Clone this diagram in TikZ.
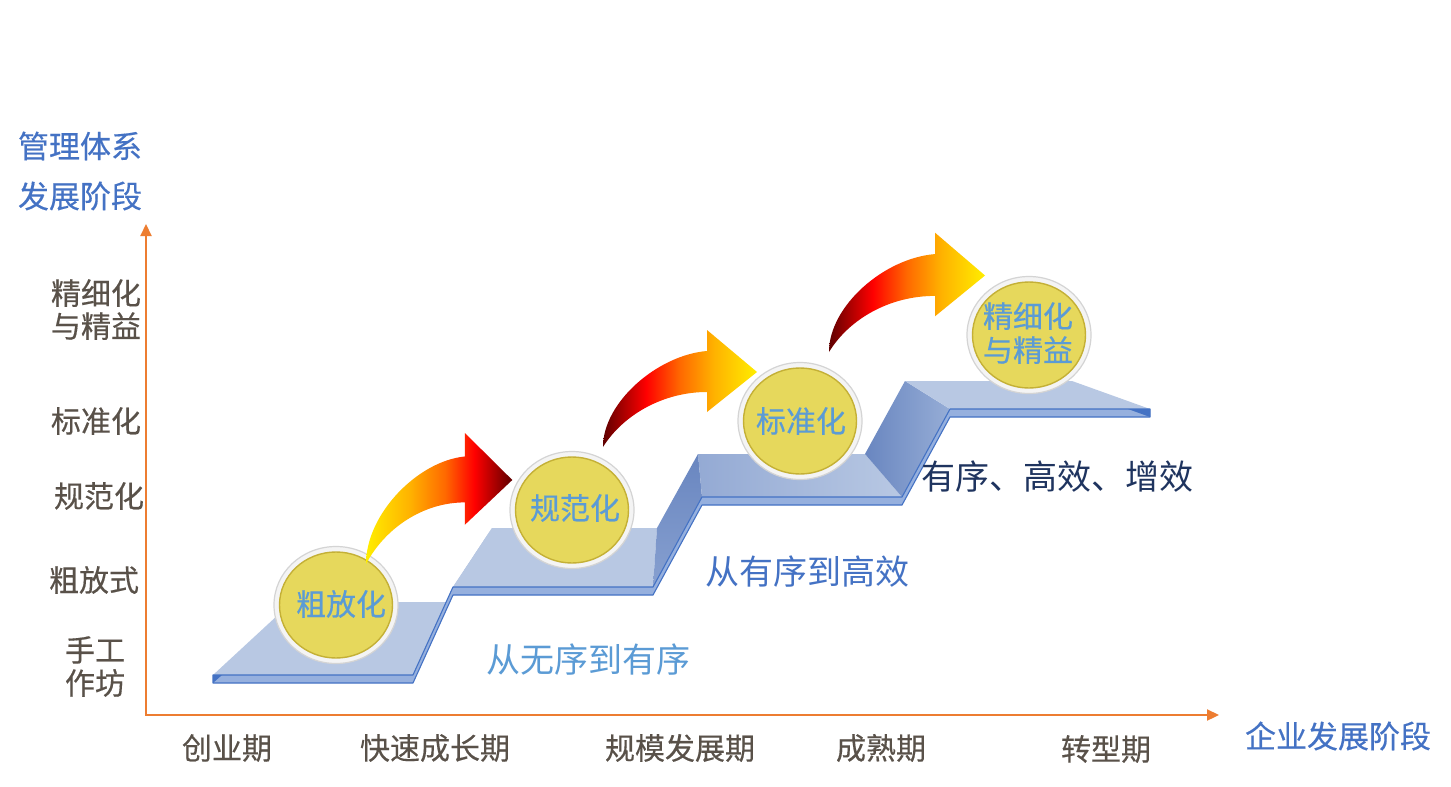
\documentclass[tikz,border=0pt]{standalone}
\usepackage{fontspec}
\setmainfont{Noto Sans CJK SC}
\newfontfamily\cjkheavy[FakeBold=0.35]{Noto Sans CJK SC}
\usetikzlibrary{arrows.meta}
\definecolor{axisor}{HTML}{ED7D31}
\definecolor{titleblue}{HTML}{4472C4}
\definecolor{lblgray}{RGB}{89,81,73}
\definecolor{cointext}{HTML}{5B9BD5}
\definecolor{navy}{RGB}{31,52,95}
\definecolor{topface}{RGB}{184,200,227}
\definecolor{topdark}{RGB}{148,170,212}
\definecolor{stripfill}{RGB}{150,176,222}
\definecolor{stripline}{RGB}{68,114,196}
\definecolor{riserA}{RGB}{168,187,222}
\definecolor{riserB}{RGB}{135,160,208}
\definecolor{riserC}{RGB}{105,134,192}
\definecolor{riserD}{RGB}{150,173,214}
\definecolor{coinfill}{RGB}{230,216,92}
\definecolor{coinrim}{RGB}{196,176,54}
\definecolor{ringfill}{RGB}{244,244,244}
\definecolor{ringline}{RGB}{212,212,212}
\definecolor{ay1}{RGB}{255,238,0}
\definecolor{ay2}{RGB}{255,178,0}
\definecolor{ay3}{RGB}{255,105,0}
\definecolor{ay4}{RGB}{255,0,0}
\definecolor{ay5}{RGB}{95,0,0}
\pgfdeclarehorizontalshading{arrowA}{100bp}{color(0bp)=(ay1); color(25bp)=(ay1); color(40bp)=(ay2); color(52bp)=(ay3); color(62bp)=(ay4); color(75bp)=(ay5); color(100bp)=(ay5)}
\pgfdeclarehorizontalshading{arrowB}{100bp}{color(0bp)=(ay5); color(25bp)=(ay5); color(39bp)=(ay4); color(50bp)=(ay3); color(61bp)=(ay2); color(75bp)=(ay1); color(100bp)=(ay1)}
\tikzset{
  ttl/.style={text=titleblue, font=\cjkheavy\fontsize{31}{36}\selectfont, inner sep=0pt},
  lbl/.style={text=lblgray, font=\cjkheavy\fontsize{30}{33}\selectfont, inner sep=0pt, align=center},
  cointxt/.style={text=cointext, font=\cjkheavy\fontsize{30}{34}\selectfont, inner sep=0pt, align=center},
  phrase/.style={font=\fontsize{34}{38}\selectfont, inner sep=0pt},
  axisline/.style={draw=axisor, line width=2.2pt},
  coinring/.style={fill=ringfill, draw=ringline, line width=1.2pt},
  coinface/.style={fill=coinfill, draw=coinrim, line width=1.4pt},
  face/.style={fill=topface},
  strip/.style={fill=stripfill, draw=stripline, line width=1.1pt, line join=round},
}
\begin{document}
\begin{tikzpicture}[x=1pt,y=-1pt]
\useasboundingbox (0,0) rectangle (1451,787);
\fill[white] (0,0) rectangle (1451,787);

% ---- staircase ribbon ----
\fill[face] (213,675) -- (413,675) -- (447,602) -- (292,602) -- cycle;
\fill[riserA] (413,675) -- (453,587) -- (492,528) -- (447,602) -- cycle;
\fill[face] (453,587) -- (653,587) -- (657,528) -- (492,528) -- cycle;
\shade[top color=riserC, bottom color=riserB] (653,587) -- (702,497) -- (698,454) -- (657,528) -- cycle;
\shade[left color=topdark, right color=topface] (702,497) -- (902,497) -- (865,454) -- (698,454) -- cycle;
\shade[left color=riserC, right color=riserD] (902,497) -- (950,409) -- (905,381) -- (865,454) -- cycle;
\fill[face] (950,409) -- (1150,409) -- (1072,381) -- (905,381) -- cycle;
\draw[strip] (213,675) -- (413,675) -- (453,587) -- (653,587) -- (702,497) -- (902,497) -- (950,409) -- (1150,409)
  -- (1150,417) -- (950,417) -- (902,505) -- (702,505) -- (653,595) -- (453,595) -- (413,683) -- (213,683) -- cycle;
\fill[stripline] (1150,409) -- (1150,417) -- (1128,409) -- cycle;
\fill[stripline] (213,675) -- (213,683) -- (222,675) -- cycle;

% ---- coins ----
\path[coinring] (336,605) ellipse [x radius=62, y radius=58.5];
\path[coinface] (336,605) ellipse [x radius=56.5, y radius=53];
\path[coinring] (572,510) ellipse [x radius=62, y radius=58.5];
\path[coinface] (572,510) ellipse [x radius=56.5, y radius=53];
\path[coinring] (800,421) ellipse [x radius=62, y radius=58.5];
\path[coinface] (800,421) ellipse [x radius=56.5, y radius=53];
\path[coinring] (1029,335) ellipse [x radius=62, y radius=58.5];
\path[coinface] (1029,335) ellipse [x radius=56.5, y radius=53];

% ---- curved gradient arrows ----
\begin{scope}[shift={(366,564)}, xscale=0.95, yscale=1.12]
\shade[shading=arrowA] (0,0) .. controls (0,-45) and (55,-92) .. (104,-96) -- (104,-117) -- (154,-75)
  -- (104,-35) -- (104,-55) .. controls (60,-55) and (20,-32) .. (0,0) -- cycle;
\end{scope}
\begin{scope}[shift={(603,447)}]
\shade[shading=arrowB] (0,0) .. controls (0,-45) and (55,-92) .. (104,-96) -- (104,-117) -- (154,-75)
  -- (104,-35) -- (104,-55) .. controls (60,-55) and (20,-32) .. (0,0) -- cycle;
\end{scope}
\begin{scope}[shift={(829,352)}, yscale=1.02]
\shade[shading=arrowB] (0,0) .. controls (0,-45) and (55,-92) .. (106,-96) -- (106,-117) -- (156,-75)
  -- (106,-35) -- (106,-55) .. controls (60,-55) and (20,-32) .. (0,0) -- cycle;
\end{scope}

% ---- axes ----
\coordinate (O) at (146,715);
\coordinate (yt) at (146,224);
\coordinate (xt) at (1219,715);
\draw[axisline, {Triangle[length=12pt,width=11pt]}-{Triangle[length=12pt,width=11pt]}] (yt) -- (O) -- (xt);

% ---- texts ----
\node[ttl] (yt1) at (80,146) {管理体系};
\node[ttl] (yt2) at (80,196) {发展阶段};
\node[ttl] (xtt) at (1338,736) {企业发展阶段};

\node[lbl] (l5) at (96,309.5) {精细化\\与精益};
\node[lbl] (l4) at (96,421) {标准化};
\node[lbl] (l3) at (99,496) {规范化};
\node[lbl] (l2) at (94,580) {粗放式};
\node[lbl] (l1) at (95,666.5) {手工\\作坊};

\node[lbl] (x1) at (227,748) {创业期};
\node[lbl] (x2) at (435,748) {快速成长期};
\node[lbl] (x3) at (680,748) {规模发展期};
\node[lbl] (x4) at (881,748) {成熟期};
\node[lbl] (x5) at (1106,749) {转型期};

\node[cointxt] (c1) at (341,604) {粗放化};
\node[cointxt] (c2) at (575,508) {规范化};
\node[cointxt] (c3) at (801,421) {标准化};
\node[cointxt] (c4) at (1028,333) {精细化\\与精益};

\node[phrase, text=cointext] (p1) at (588,660) {从无序到有序};
\node[phrase, text=titleblue] (p2) at (807,572) {从有序到高效};
\node[phrase, text=navy] (p3) at (1057,477) {有序、高效、增效};
\end{tikzpicture}
\end{document}
